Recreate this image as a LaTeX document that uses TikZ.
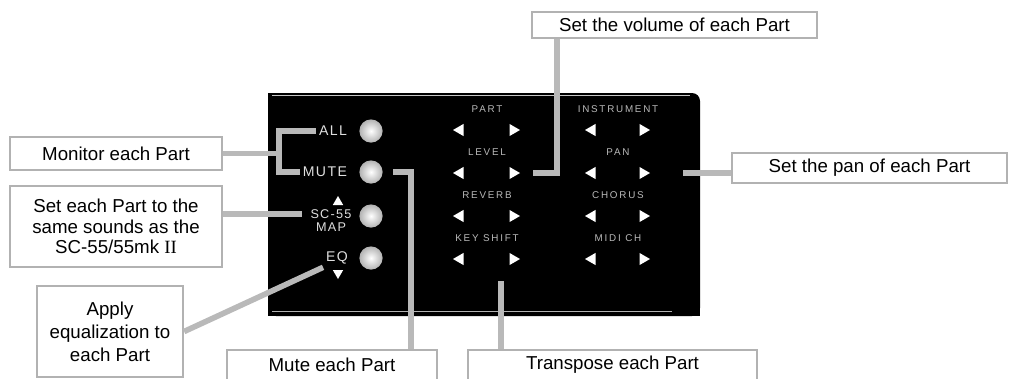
\documentclass[tikz,border=0pt]{standalone}
\usepackage{fontspec}
\setmainfont{Liberation Sans}
\newfontfamily\panelfont[LetterSpace=18]{Liberation Sans}
\newfontfamily\btnfont[LetterSpace=10]{Liberation Sans}
\newfontfamily\romanfont{Liberation Serif}
\usetikzlibrary{shapes.geometric}

\tikzset{
  callout/.style={draw=gray!60, line width=1.6pt, fill=white, align=center, inner sep=0pt},
  conn/.style={draw=gray!55, line width=4pt},
  knob/.style={circle, inner sep=0pt, minimum size=0.58cm, inner color=white, outer color=gray!60},
  keylabel/.style={text=gray!55, inner sep=1pt, font=\panelfont\fontsize{7}{8}\selectfont},
  btnlabel/.style={text=gray!25, inner sep=2pt, font=\btnfont\fontsize{10}{8}\selectfont},
  tri/.style={regular polygon, regular polygon sides=3, fill=white, inner sep=0pt, minimum size=0.35cm},
}

\begin{document}
\begin{tikzpicture}[x=0.025cm, y=-0.025cm, font=\fontsize{13.3}{15.5}\selectfont]
\useasboundingbox (0,0) rectangle (1009,378);
\clip (0,0) rectangle (1009,378);

% panel
\fill[black, rounded corners=0.2cm] (268,93) rectangle (700,316);
\fill[black] (268,93) rectangle (400,316);
\fill[black] (268,200) rectangle (700,316);
\draw[gray!45, line width=0.4pt] (272,95) -- (690,95);
\draw[gray!60, line width=0.6pt] (272,311) -- (672,311);

% buttons
\node[knob] (ball) at (371,131) {};
\node[knob] (bmute) at (371,172) {};
\node[knob] (bmap) at (371,216) {};
\node[knob] (beq) at (371,258) {};
\node[btnlabel, anchor=east] (lall) at (350,131) {ALL};
\node[btnlabel, anchor=east] (lmute) at (350,172) {MUTE};
\node[btnlabel, inner sep=0.3pt, font=\btnfont\fontsize{9}{9}\selectfont] (lmap) at (331,214) {SC-55};
\node[btnlabel, inner sep=0.3pt, font=\btnfont\fontsize{9}{9}\selectfont] (lmapb) at (331,227) {MAP};
\node[tri, minimum size=0.3cm] (upmap) at (338,202) {};
\node[btnlabel] (leq) at (337,258) {EQ};
\node[tri, minimum size=0.3cm, shape border rotate=180] (dneq) at (338,273) {};

% keys
\foreach \pa/\pb [count=\i] in {PART/INSTRUMENT, LEVEL/PAN, REVERB/CHORUS, KEY SHIFT/MIDI CH} {
  \node[keylabel] (ka-\i) at (487,66+43*\i) {\pa};
  \node[keylabel] (kb-\i) at (618,66+43*\i) {\pb};
  \node[tri, shape border rotate=90] (la-\i) at (460,87+43*\i) {};
  \node[tri, shape border rotate=-90] (ra-\i) at (513,87+43*\i) {};
  \node[tri, shape border rotate=90] (lb-\i) at (592,87+43*\i) {};
  \node[tri, shape border rotate=-90] (rb-\i) at (643,87+43*\i) {};
}

% callouts
\node[callout, minimum width=7.125cm, minimum height=0.65cm] (vol) at (674.5,25) {Set the volume of each Part};
\node[callout, minimum width=5.3cm, minimum height=0.825cm] (mon) at (116,153.5) {Monitor each Part};
\node[callout, minimum width=5.3cm, minimum height=2.025cm, font=\fontsize{13.3}{14.5}\selectfont] (map) at (116,226.5) {Set each Part to the\\same sounds as the\\SC-55/55mk {\romanfont II}};
\node[callout, minimum width=3.65cm, minimum height=2.275cm, font=\fontsize{13.3}{16.3}\selectfont] (eq) at (110,331.5) {Apply\\equalization to\\each Part};
\node[callout, minimum width=6.875cm, minimum height=0.75cm] (pan) at (869.5,168) {Set the pan of each Part};
\node[callout, minimum width=5.25cm, minimum height=0.75cm] (mute) at (332,365) {Mute each Part};
\node[callout, minimum width=7.225cm, minimum height=0.75cm] (trans) at (612.5,365) {Transpose each Part};

% connectors
\coordinate (volend) at ([xshift=0.5cm]ra-2.center);
\coordinate (panend) at ([xshift=1cm]rb-2.center);
\draw[conn] ([xshift=0.65cm]vol.south west) |- (volend);
\draw[conn] (panend -| pan.west) -- (panend);
\draw[conn] (mon.east) -- ([xshift=1.4cm]mon.east);
\draw[conn] (lall.west) -| ([xshift=1.4cm]mon.east) |- (lmute.west);
\draw[conn] ([xshift=-0.2cm]lmap.west) -- (map.east |- lmap.west);
\draw[conn] (eq.east) -- (leq.south west);
\draw[conn] ([xshift=0.55cm]bmute.center) -| ([xshift=-0.675cm]mute.north east);
\draw[conn] ([xshift=0.85cm]trans.north west) -- ++(0,-68);
\end{tikzpicture}
\end{document}
